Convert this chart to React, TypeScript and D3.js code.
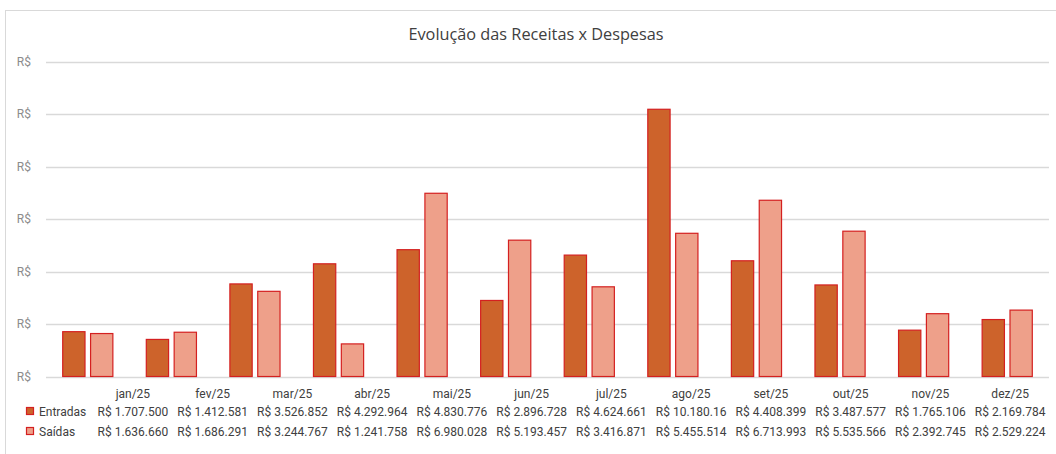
import { useMemo } from 'react'
import * as d3 from 'd3'

// monthly values (R$)
const months = ['jan/25', 'fev/25', 'mar/25', 'abr/25', 'mai/25', 'jun/25', 'jul/25', 'ago/25', 'set/25', 'out/25', 'nov/25', 'dez/25']
const entradas = [1707500, 1412581, 3526852, 4292964, 4830776, 2896728, 4624661, 10180160, 4408399, 3487577, 1765106, 2169784]
const saidas = [1636660, 1686291, 3244767, 1241758, 6980028, 5193457, 3416871, 5455514, 6713993, 5535566, 2392745, 2529224]
const seriesNames = ['Entradas', 'Saídas']
const yTicks = [0, 2000000, 4000000, 6000000, 8000000, 10000000, 12000000]
// as shown in the data table (ago/25 entradas is cut off in the source)
const entradasLabels = ['R$ 1.707.500', 'R$ 1.412.581', 'R$ 3.526.852', 'R$ 4.292.964', 'R$ 4.830.776', 'R$ 2.896.728', 'R$ 4.624.661', 'R$ 10.180.16', 'R$ 4.408.399', 'R$ 3.487.577', 'R$ 1.765.106', 'R$ 2.169.784']
const saidasLabels = ['R$ 1.636.660', 'R$ 1.686.291', 'R$ 3.244.767', 'R$ 1.241.758', 'R$ 6.980.028', 'R$ 5.193.457', 'R$ 3.416.871', 'R$ 5.455.514', 'R$ 6.713.993', 'R$ 5.535.566', 'R$ 2.392.745', 'R$ 2.529.224']

const W = 1056
const H = 454
const FILLS = ['#CD632B', '#EEA08A']
const STROKE = '#D42020'
const FONT = "'Roboto', 'Liberation Sans', sans-serif"

export default function App() {
  const plot = { left: 46, right: 1049, top: 61.5, bottom: 376.5 }

  const x0 = useMemo(() => d3.scaleBand<string>()
    .domain(months)
    .range([plot.left, plot.right])
    .paddingInner(0.4)
    .paddingOuter(0.2), [])

  const x1 = useMemo(() => d3.scaleBand<string>()
    .domain(seriesNames)
    .range([0, x0.bandwidth()])
    .paddingInner(0.2), [x0])

  const y = useMemo(() => d3.scaleLinear()
    .domain([0, 12000000])
    .range([plot.bottom, plot.top]), [])

  // data table columns (offset from the bars, like the source)
  const tableX = d3.scaleBand<string>().domain(months).range([93, 1050])
  const rows = [
    { name: seriesNames[0], labels: entradasLabels, y: 416 },
    { name: seriesNames[1], labels: saidasLabels, y: 436 },
  ]
  const values = [entradas, saidas]

  return (
    <div style={{ position: 'fixed', left: 0, top: 0 }}>
      <svg width={W} height={H} style={{ display: 'block', background: '#fff' }}>
        {/* chart frame */}
        <rect x={5.5} y={10.5} width={W} height={H} fill="none" stroke="#d9d9d9" />

        <text x={536} y={40} textAnchor="middle" fontFamily="'Open Sans', sans-serif" fontSize={16.3} fill="#404040">
          Evolução das Receitas x Despesas
        </text>

        {/* gridlines + y labels */}
        {yTicks.map(t => (
          <g key={t}>
            <line x1={plot.left} x2={plot.right} y1={Math.round(y(t)) + 0.5} y2={Math.round(y(t)) + 0.5} stroke="#d9d9d9" strokeWidth={1.3} />
            <text x={31} y={y(t) + 4} textAnchor="end" fontFamily={FONT} fontSize={12} fill="#8c8c8c">R$</text>
          </g>
        ))}

        {/* bars */}
        {months.map((m, i) => (
          <g key={m} transform={`translate(${x0(m)},0)`}>
            {seriesNames.map((s, j) => (
              <rect
                key={s}
                x={x1(s)}
                y={y(values[j][i])}
                width={x1.bandwidth()}
                height={y(0) - y(values[j][i])}
                fill={FILLS[j]}
                stroke={STROKE}
                strokeWidth={1.2}
              />
            ))}
          </g>
        ))}

        {/* data table */}
        <g fontFamily={FONT} fontSize={12} fill="#404040">
          {months.map(m => (
            <text key={m} x={tableX(m)! + tableX.bandwidth() / 2} y={398} textAnchor="middle">{m}</text>
          ))}
          {rows.map((r, j) => (
            <g key={r.name}>
              <rect x={26.5} y={r.y - 8.5} width={7} height={7} fill={FILLS[j]} stroke={STROKE} strokeWidth={1.2} />
              <text x={39} y={r.y}>{r.name}</text>
              {r.labels.map((l, i) => (
                <text key={i} x={tableX(months[i])! + tableX.bandwidth() / 2} y={r.y} textAnchor="middle">{l}</text>
              ))}
            </g>
          ))}
        </g>
      </svg>
    </div>
  )
}
